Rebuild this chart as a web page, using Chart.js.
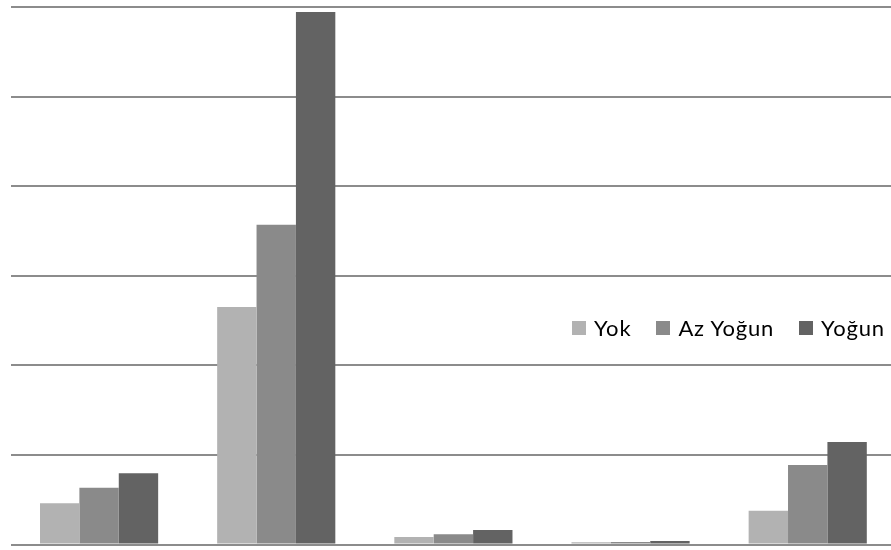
<!DOCTYPE html>
<html>
<head>
<meta charset="utf-8">
<script src="https://cdn.jsdelivr.net/npm/chart.js@4/dist/chart.umd.min.js"></script>
<style>
  html, body { margin: 0; padding: 0; background: #fff; overflow: hidden; width: 891px; height: 550px; }
  #wrap { position: relative; width: 891px; height: 550px; overflow: hidden; }
  #c { position: absolute; left: 0; top: 0; }
  #legend { position: absolute; left: 572px; top: 314px; display: flex; align-items: center;
            font-family: Lato, "Open Sans", sans-serif; font-size: 22px; letter-spacing: 0.8px;
            color: #000; white-space: nowrap; }
  #legend .item { display: flex; align-items: center; margin-right: 25px; }
  #legend .item:last-child { margin-right: 0; }
  #legend .box { width: 14px; height: 14px; margin-right: 8px; }
</style>
</head>
<body>
<div id="wrap">
  <canvas id="c" width="897" height="550"></canvas>
  <div id="legend"></div>
</div>
<script>
// Categories (axis labels are not shown on this chart)
const categories = ['Grup 1', 'Grup 2', 'Grup 3', 'Grup 4', 'Grup 5'];

// Series values
const yok     = [4.6, 26.5, 0.84, 0.25, 3.77];
const azYogun = [6.34, 35.7, 1.14, 0.28, 8.87];
const yogun   = [7.95, 59.45, 1.62, 0.39, 11.44];

const seriesNames  = ['Yok', 'Az Yoğun', 'Yoğun'];
const seriesColors = ['#b2b2b2', '#8a8a8a', '#636363'];

// Value axis range (ticks hidden, only gridlines drawn)
const yMin = 0, yMax = 60, yStep = 10;

const datasets = [yok, azYogun, yogun].map((vals, i) => ({
  label: seriesNames[i],
  data: vals,
  backgroundColor: seriesColors[i],
  borderWidth: 0,
  categoryPercentage: 0.667,
  barPercentage: 1.0
}));

const chart = new Chart(document.getElementById('c'), {
  type: 'bar',
  data: { labels: categories, datasets },
  options: {
    responsive: false,
    devicePixelRatio: 1,
    animation: false,
    layout: { padding: { top: 7, bottom: 5.5, left: 10.5, right: 0.7 } },
    plugins: { legend: { display: false }, tooltip: { enabled: false } },
    scales: {
      x: { display: false },
      y: {
        min: yMin, max: yMax,
        ticks: { display: false, stepSize: yStep },
        grid: { color: '#8c8c8c', lineWidth: 2, drawTicks: false },
        border: { display: false }
      }
    }
  }
});

// HTML legend built from the datasets
const legend = document.getElementById('legend');
chart.data.datasets.forEach(ds => {
  const item = document.createElement('div');
  item.className = 'item';
  const box = document.createElement('span');
  box.className = 'box';
  box.style.background = ds.backgroundColor;
  const txt = document.createElement('span');
  txt.textContent = ds.label;
  item.appendChild(box);
  item.appendChild(txt);
  legend.appendChild(item);
});
</script>
</body>
</html>
